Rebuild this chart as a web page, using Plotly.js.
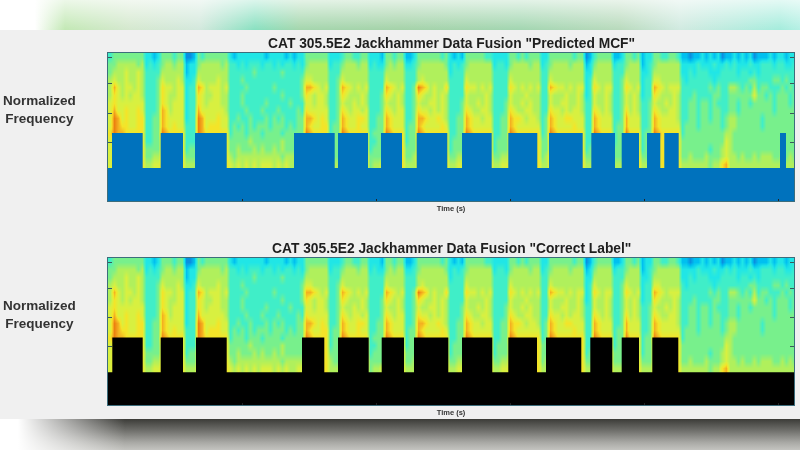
<!DOCTYPE html>
<html><head><meta charset="utf-8">
<script src="https://cdn.plot.ly/plotly-3.0.1.min.js"></script>
<style>
html,body{margin:0;padding:0;width:800px;height:450px;overflow:hidden;background:#f0f0f0}
#top{position:absolute;left:0;top:0;width:800px;height:30px;
background:linear-gradient(180deg,rgba(255,255,255,.7) 0%,rgba(255,255,255,.35) 50%,rgba(255,255,255,0) 100%),
linear-gradient(90deg,#fff 0,#fff 35px,#c2e8b4 65px,#d4e8ce 130px,#d2e8dc 200px,#88e0c0 255px,#a4d6ac 300px,#a4d2a8 400px,#a2d6b0 520px,#b8dabc 620px,#d0eae0 680px,#a4ecdc 780px,#b4f0e4 800px)}
#bot{position:absolute;left:0;top:419px;width:800px;height:31px;
background:linear-gradient(90deg,#fff 0,#fff 18px,rgba(255,255,255,0) 125px),
linear-gradient(180deg,#3c3c38 0%,#6c6c68 35%,#a8a8a4 75%,#c4c4c0 100%)}
#chart{position:absolute;left:0;top:0;width:800px;height:450px;filter:blur(.45px)}
</style></head><body>
<div id="top"></div><div id="bot"></div><div id="chart"></div>
<script>
// Spectrogram levels (0 low .. 9 high), one string per frequency band, top band first.
// Each string is read left to right in time, one digit per time bin.
const band00="3 44444444 2212 444344 001 43444444 2122222221 222212122 444444 222 3443344 2221 44344 112 44444434 2121 4444433 2222 44343444 22 444444344 01 34444 112 4434 122 4433443 1101121212 0112121201 112122122";
const band01="4 45555545 2323 455455 122 45555545 3323233323 323233232 455555 233 4555455 2322 45455 223 45555554 2323 4555555 2332 45555455 23 455554555 12 45555 233 4555 123 4555555 2222322232 2323222322 333233223";
const band02="4 55565565 3333 555555 122 55555555 3333334333 333433333 555555 333 5555555 3333 55555 333 55555555 2333 5555555 3333 55555555 33 555555555 22 55555 333 5555 223 5555555 2232333222 3333233232 333333333";
const band03="5 65565565 3334 655565 223 65555655 3334333333 333333334 665555 334 6555555 3333 65555 333 56555555 3333 6555555 3333 65555555 33 655555555 23 65555 334 6555 233 6655555 3233333323 3333333443 333443433";
const band04="5 86566565 3334 766566 233 87566656 3333433333 343333334 887656 334 8765656 3333 87656 334 98756557 3333 7665656 3333 76565656 33 876656566 23 76566 334 7656 233 8765666 3333333434 3355434353 443334343";
const band05="5 76565665 3334 765566 233 76556655 3334333333 333433334 765665 334 7655565 3334 76565 334 76556565 3333 6555565 3333 65556555 33 655565565 23 65565 334 6565 233 7655565 3334333344 3344444464 434344434";
const band06="6 76666666 3334 765666 233 76566655 3334333334 333334333 665665 334 6556565 3334 65565 334 65566565 3334 6556565 3334 65565655 33 655665565 33 65565 334 6565 334 6556565 3344344343 3344344344 444344434";
const band07="6 86676676 3334 875666 233 86666665 3333433343 334333343 766666 334 7656656 3334 76566 334 76656565 3334 7655665 3334 76556655 33 766565665 33 76565 334 7565 334 7655665 3344344344 3344344444 444344444";
const band08="6 98676677 3344 876666 233 98666766 3343343334 343433344 887676 334 8766776 3344 87666 334 88766765 3344 8766566 3344 87765665 34 876677666 33 87666 334 8666 334 8766665 3344344344 3455444444 344444444";
const band09="6 98776677 3344 876766 333 98677766 3434343444 344434344 876677 344 8766766 3344 87666 344 87666676 3344 8766666 3344 87666666 34 876666766 33 87666 344 8666 334 8766666 3444344444 3455444444 344444444";
const band10="7 98877777 3344 987777 333 98777777 3444344434 444344444 987777 344 9877777 3444 98777 344 98777777 3344 9877777 3344 98777777 34 987777777 33 98777 344 9777 344 9877777 3444444444 4554444444 444444444";
const band11="6 77777777 3344 777777 333 77777777 4444454444 444544444 777777 344 7777777 3344 77777 344 77777777 3444 7777777 3444 77777777 44 777777777 33 77777 344 7777 344 7777777 4444444444 4654444444 444444444";
const band12="6 77777777 4444 777777 344 77777777 4454445454 454544444 777777 444 7777777 3444 77777 444 77777777 3444 7777777 3444 77777777 44 777777777 34 77777 444 7777 344 7777777 4444444344 5654444444 444444444";
const band13="6 77777777 4455 777777 444 77777777 5455555555 555455555 777777 544 7777777 4444 77777 445 77777777 4455 7777777 4455 77777777 45 777777777 44 77777 444 7777 444 7777777 4454445444 5655454454 555445454";
const band14="6 77777777 5566 777777 555 77777777 6565656566 656565566 777777 555 7777777 4556 77777 555 77777777 5566 7777777 5566 77777777 55 777777777 55 77777 555 7777 555 7777777 5555555455 7855555555 555555555";
const bandRows=[band00,band01,band02,band03,band04,band05,band06,band07,band08,band09,band10,band11,band12,band13,band14,band14];
const bandFreq=[.984,.932,.880,.827,.775,.723,.670,.618,.566,.513,.461,.409,.356,.304,.252,.200];
const binWidth=4;

// Label tracks: times where the label switches, starting in the low state.
const predictedSwitch=[0,4,34.7,52.7,75,87,118.7,186,226.7,230,260,273,294,308.7,339.3,354,383.7,400.3,429.3,441,474.7,483.3,507,513.7,531,539,552.3,556.3,570.7,672,678,686];
const correctSwitch=[0,4.3,34.7,52.7,75,88,118.7,194,216.3,230,260.7,273.7,296,306,340.3,354,384.3,400.3,429,438,473.3,482.3,504.3,513.7,531,544.3,570.3,686];
const labelLow=.225, labelHigh=.464;

const titleTop='CAT 305.5E2 Jackhammer Data Fusion "Predicted MCF"';
const titleBottom='CAT 305.5E2 Jackhammer Data Fusion "Correct Label"';
const freqTicks=[.4,.6,.8,.98];
const timeTicks=[134,268,402,536,670];

const z=bandRows.map(r=>r.replace(/\s/g,'').split('').map(Number));
const times=z[0].map((_,i)=>(i+.5)*binWidth);
const colors=['#0a8fe0','#00c0f0','#20e6e6','#40eec8','#78f08c','#b0f05c','#d8f040','#f4e428','#f4b020','#ec8010'];
const scale=colors.map((c,i)=>[i/9,c]);
function spectro(xa,ya){return {type:'heatmap',x:times,y:bandFreq,z:z,zmin:0,zmax:9,colorscale:scale,showscale:false,zsmooth:'best',xaxis:xa,yaxis:ya,hoverinfo:'skip'};}
function track(sw,color,xa,ya){
  const x=[],y=[];
  sw.forEach((t,i)=>{x.push(t);y.push(i%2===1?labelHigh:labelLow);});
  y[y.length-1]=labelLow;
  return {type:'scatter',mode:'lines',x:x,y:y,line:{shape:'hv',color:color,width:0},fill:'tozeroy',fillcolor:color,xaxis:xa,yaxis:ya,hoverinfo:'skip'};
}
const xax=(anchor)=>({domain:[108/800,794/800],range:[0,686],anchor:anchor,showgrid:false,zeroline:false,tickmode:'array',tickvals:timeTicks,ticktext:timeTicks.map(()=>''),ticks:'inside',ticklen:2,tickcolor:'#222',showline:true,mirror:true,linecolor:'#3c6d7c',linewidth:1,
  title:{text:'<b>Time (s)</b>',font:{family:'Liberation Sans',size:7.5,color:'#333'},standoff:2}});
const yax=(dom,anchor)=>({domain:dom,range:[0,1.01],anchor:anchor,showgrid:false,zeroline:false,tickmode:'array',tickvals:freqTicks,ticktext:freqTicks.map(()=>''),ticks:'inside',ticklen:4,tickcolor:'#3a5a5a',showline:true,mirror:'allticks',linecolor:'#3c6d7c',linewidth:1});
const ann=(text,x,y,size,color)=>({text:text,xref:'paper',yref:'paper',x:x/800,y:1-y/450,showarrow:false,align:'center',xanchor:'center',yanchor:'middle',font:{family:'Liberation Sans',size:size,color:color}});
const layout={width:800,height:450,margin:{l:0,r:0,t:0,b:0},paper_bgcolor:'rgba(0,0,0,0)',plot_bgcolor:'rgba(0,0,0,0)',showlegend:false,
  xaxis:xax('y'),yaxis:yax([249/450,397/450],'x'),
  xaxis2:xax('y2'),yaxis2:yax([45/450,192/450],'x2'),
  annotations:[
    ann('<b>'+titleTop+'</b>',451.5,43,13.8,'#1e1e1e'),
    ann('<b>'+titleBottom+'</b>',451.5,248,13.8,'#1e1e1e'),
    ann('<b>Normalized<br>Frequency</b>',39,109.5,13.5,'#333'),
    ann('<b>Normalized<br>Frequency</b>',39,314.5,13.5,'#333')
  ]};
Plotly.newPlot('chart',[spectro('x','y'),track(predictedSwitch,'#0072bd','x','y'),spectro('x2','y2'),track(correctSwitch,'#000000','x2','y2')],layout,{staticPlot:true,displayModeBar:false});
</script>
</body></html>
